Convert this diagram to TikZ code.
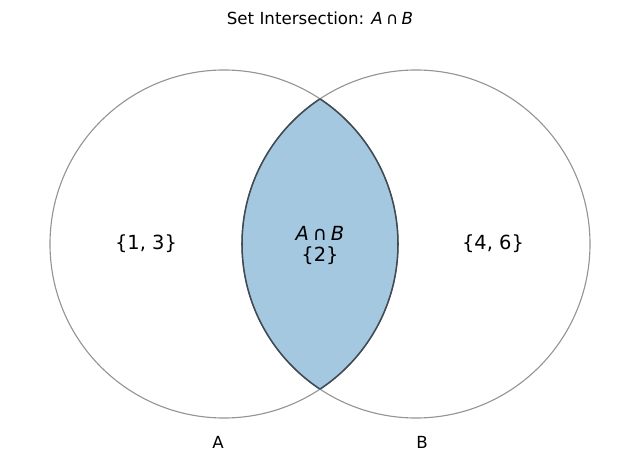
\documentclass[tikz,border=0pt]{standalone}
\usepackage{fontspec}
\setmainfont{DejaVu Sans}
\newfontfamily\djobl{DejaVu Sans Oblique}
\definecolor{fillblue}{HTML}{A5C8E1}
\definecolor{circgray}{HTML}{949494}
\definecolor{edgedark}{HTML}{3F4A52}
\newcommand{\capAB}{{\djobl A}\hspace{0.2em}∩\hspace{0.2em}{\djobl B}}
\begin{document}
\begin{tikzpicture}[x=0.72pt,y=-0.72pt,
  circ/.style={draw=circgray,line width=0.8pt},
  lbl/.style={font=\fontsize{14}{16}\selectfont,inner sep=0pt},
  small/.style={font=\fontsize{12}{14}\selectfont,inner sep=0pt}]
\useasboundingbox (0,0) rectangle (640,468);
\begin{scope}
  \clip (224,244) circle[radius=174];
  \fill[fillblue] (416,244) circle[radius=174];
\end{scope}
\draw[circ] (224,244) circle[radius=174];
\draw[circ] (416,244) circle[radius=174];
\begin{scope}
  \clip (224,244) circle[radius=174];
  \draw[edgedark,line width=1.1pt] (416,244) circle[radius=174];
\end{scope}
\begin{scope}
  \clip (416,244) circle[radius=174];
  \draw[edgedark,line width=1.1pt] (224,244) circle[radius=174];
\end{scope}
\node[small] (title) at (320,18) {Set Intersection: \capAB};
\node[lbl] (mid1) at (320,233) {\capAB};
\node[lbl] (left) at (146,244) {\{1, 3\}};
\node[lbl] (mid2) at (320,256) {\{2\}};
\node[lbl] (right) at (493,244) {\{4, 6\}};
\node[small] (la) at (218,442) {A};
\node[small] (lb) at (422,442) {B};
\end{tikzpicture}
\end{document}
